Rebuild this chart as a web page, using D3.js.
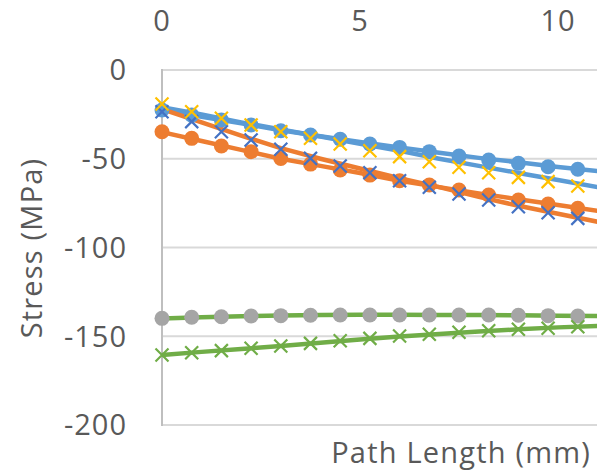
<!DOCTYPE html>
<html>
<head>
<meta charset="utf-8">
<script src="https://cdn.jsdelivr.net/npm/d3@7"></script>
<style>
	body { margin: 0; background: #fff; }
	text { font-family: "Open Sans", sans-serif; fill: #595959; }
</style>
</head>
<body>
<div id="chart"></div>
<script>
// measured points (markers)
var markerX = [0, 0.75, 1.5, 2.25, 3, 3.75, 4.5, 5.25, 6, 6.75, 7.5, 8.25, 9, 9.75, 10.5];
var blueDots = [-22.5, -25.4, -28.2, -31, -34.2, -36.6, -39, -41.7, -43.6, -46, -48.5, -50.7, -52.6, -54.5, -55.9];
var orangeDots = [-34.8, -38.5, -42.8, -46, -49.8, -53, -56.3, -59.2, -62.4, -64.8, -67.6, -70.4, -73.2, -75.5, -77.9];
var grayDots = [-139.9, -139.3, -139, -138.6, -138.4, -138.2, -138, -138, -138, -138, -138, -138, -138.2, -138.4, -138.6];
var blueCross = [-23.5, -29.1, -34.8, -39.4, -44.7, -49.8, -54.1, -57.9, -62.4, -66.1, -69.9, -73.2, -77, -80.4, -83.6];
var yellowCross = [-19.2, -23.5, -27.2, -31, -34.8, -38.5, -41.7, -45.5, -48.8, -51.7, -54.8, -57.9, -60.5, -62.9, -65.4];
var greenCross = [-160.6, -159.3, -158.1, -156.8, -155.5, -154, -152.5, -151.2, -149.9, -148.9, -147.8, -146.9, -146.1, -145.5, -144.6];

// model curves (lines)
var lineX = [0, 1, 2, 3, 4, 5, 6, 7, 8, 9, 10, 11];
var blueLineA = [-22, -26.3, -30, -34, -37.3, -40.5, -43.6, -46.6, -49.5, -52, -54.6, -57];
var blueLineB = [-21, -25, -29.5, -33.5, -37.5, -41.5, -45.5, -50, -54, -58, -62, -66];
var orangeLineA = [-35, -40, -45, -50, -54, -58, -62.4, -66, -69.5, -72.8, -76, -79.3];
var orangeLineB = [-22, -29.5, -37, -44, -50, -55.5, -61, -66, -71.5, -76.5, -81, -85.5];
var greenLineA = [-140, -139.3, -138.7, -138.3, -138, -137.9, -137.9, -138, -138, -138.2, -138.4, -138.6];
var greenLineB = [-160.5, -158.8, -157.2, -155.5, -153.6, -151.8, -150.2, -148.7, -147.3, -146.1, -145, -144.2];

var xTicks = [0, 5, 10];
var yTicks = [0, -50, -100, -150, -200];

var w = 597, h = 476;

var svg = d3.select('#chart')
	.append('svg')
	.attr('width', w)
	.attr('height', h);

var x = d3.scaleLinear().domain([0, 11]).range([162, 597.6]);
var y = d3.scaleLinear().domain([-200, 0]).range([425, 70]);

// gridlines
svg.append('g')
	.selectAll('line')
	.data(yTicks).enter()
	.append('line')
	.attr('x1', x(0))
	.attr('x2', w)
	.attr('y1', function(d){ return y(d); })
	.attr('y2', function(d){ return y(d); })
	.attr('stroke', '#d9d9d9')
	.attr('stroke-width', 2);

// vertical axis line
svg.append('line')
	.attr('x1', x(0)).attr('x2', x(0))
	.attr('y1', y(0) - 1).attr('y2', y(-200) + 1)
	.attr('stroke', '#bfbfbf')
	.attr('stroke-width', 2);

// tick labels
svg.append('g')
	.selectAll('text')
	.data(yTicks).enter()
	.append('text')
	.attr('x', 127)
	.attr('y', function(d){ return y(d); })
	.attr('dy', '0.36em')
	.attr('text-anchor', 'end')
	.style('font-size', '29px')
	.style('letter-spacing', '1px')
	.text(function(d){ return d === 0 ? '0' : '-' + Math.abs(d); });

svg.append('g')
	.selectAll('text')
	.data(xTicks).enter()
	.append('text')
	.attr('x', function(d){ return x(d); })
	.attr('y', 31)
	.attr('text-anchor', 'middle')
	.style('font-size', '29px')
	.style('letter-spacing', '1px')
	.text(function(d){ return d; });

// axis titles
svg.append('text')
	.attr('x', 591)
	.attr('y', 463)
	.attr('text-anchor', 'end')
	.style('font-size', '29px')
	.style('letter-spacing', '1.2px')
	.text('Path Length (mm)');

svg.append('text')
	.attr('transform', 'translate(42, 248) rotate(-90)')
	.attr('text-anchor', 'middle')
	.style('font-size', '29px')
	.style('letter-spacing', '1.2px')
	.text('Stress (MPa)');

// lines
var line = d3.line()
	.x(function(d, i){ return x(lineX[i]); })
	.y(function(d){ return y(d); });

var lines = [
	{ values: blueLineA, color: '#5b9bd5' },
	{ values: blueLineB, color: '#5b9bd5' },
	{ values: orangeLineA, color: '#ed7d31' },
	{ values: orangeLineB, color: '#ed7d31' },
	{ values: greenLineA, color: '#70ad47' },
	{ values: greenLineB, color: '#70ad47' }
];

svg.append('g')
	.selectAll('path')
	.data(lines).enter()
	.append('path')
	.attr('d', function(d){ return line(d.values); })
	.attr('fill', 'none')
	.attr('stroke', function(d){ return d.color; })
	.attr('stroke-width', 4.5)
	.attr('stroke-linejoin', 'round');

// markers
var dotSeries = [
	{ values: blueDots, color: '#5b9bd5' },
	{ values: orangeDots, color: '#ed7d31' },
	{ values: grayDots, color: '#a5a5a5' }
];
var crossSeries = [
	{ values: blueCross, color: '#4472c4' },
	{ values: yellowCross, color: '#ffc000' },
	{ values: greenCross, color: '#70ad47' }
];

dotSeries.forEach(function(s){
	svg.append('g')
		.selectAll('circle')
		.data(s.values).enter()
		.append('circle')
		.attr('cx', function(d, i){ return x(markerX[i]); })
		.attr('cy', function(d){ return y(d); })
		.attr('r', 7.5)
		.attr('fill', s.color);
});

var r = 6.5;
crossSeries.forEach(function(s){
	svg.append('g')
		.selectAll('path')
		.data(s.values).enter()
		.append('path')
		.attr('d', function(d, i){
			var cx = x(markerX[i]), cy = y(d);
			return 'M' + (cx - r) + ',' + (cy - r) + 'L' + (cx + r) + ',' + (cy + r)
				+ 'M' + (cx - r) + ',' + (cy + r) + 'L' + (cx + r) + ',' + (cy - r);
		})
		.attr('fill', 'none')
		.attr('stroke', s.color)
		.attr('stroke-width', 2.2);
});
</script>
</body>
</html>
